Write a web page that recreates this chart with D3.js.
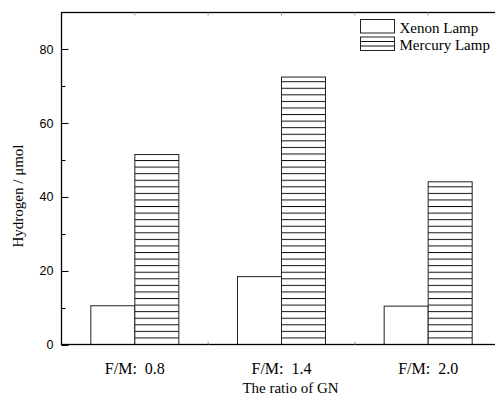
<!DOCTYPE html>
<html lang="en">
    <head>
        <meta charset="utf-8">
        <title>Hydrogen evolution vs ratio of GN</title>
        <script src="https://d3js.org/d3.v7.min.js"></script>
        <style type="text/css">
            body{
                margin:0;
                background:#fff;
            }
            svg{
                display:block;
            }
        </style>
    </head>
    <body>
        <svg width="495" height="396"></svg>
        <script type="text/javascript">

            // data
            const categories = ["F/M:  0.8", "F/M:  1.4", "F/M:  2.0"];
            const series = ["Xenon Lamp", "Mercury Lamp"];
            const xenon = [10.5, 18.4, 10.4];
            const mercury = [51.5, 72.5, 44.1];
            const yTicks = [0, 20, 40, 60, 80];
            const yMinor = [10, 30, 50, 70];

            const svg = d3.select("svg");
            const mLeft = 61.5, mRight = 501.5, mTop = 12.5, mBottom = 344.5;

            const x = d3.scaleBand()
                        .domain(categories)
                        .range([mLeft, mRight])
                        .paddingInner(0.4)
                        .paddingOuter(0.2);
            const xSub = d3.scaleBand()
                        .domain(series)
                        .range([0, x.bandwidth()]);
            const y = d3.scaleLinear()
                        .domain([0, 90])
                        .range([mBottom, mTop]);

            // horizontal hatch, anchored on the baseline
            const gap = 6.57;
            const defs = svg.append("defs");
            const pat = defs.append("pattern")
                            .attr("id", "hatch")
                            .attr("patternUnits", "userSpaceOnUse")
                            .attr("width", 10)
                            .attr("height", gap)
                            .attr("y", mBottom - 0.5);
            pat.append("rect").attr("width", 10).attr("height", gap).attr("fill", "#fff");
            pat.append("line")
                .attr("x1", 0).attr("x2", 10)
                .attr("y1", 0.5).attr("y2", 0.5)
                .attr("stroke", "#111").attr("stroke-width", 1);

            const fills = {"Xenon Lamp": "#fff", "Mercury Lamp": "url(#hatch)"};

            const rows = categories.map((c, i) => ({cat: c, values: [
                {key: series[0], v: xenon[i]},
                {key: series[1], v: mercury[i]}
            ]}));

            const groups = svg.selectAll("g.grp")
                            .data(rows)
                            .join("g")
                            .attr("class", "grp")
                            .attr("transform", d => `translate(${x(d.cat)},0)`);

            groups.selectAll("rect")
                .data(d => d.values)
                .join("rect")
                .attr("x", d => xSub(d.key))
                .attr("y", d => y(d.v))
                .attr("width", xSub.bandwidth())
                .attr("height", d => y(0) - y(d.v))
                .style("fill", d => fills[d.key])
                .style("stroke", "#222")
                .style("stroke-width", 1);

            // frame
            svg.append("rect")
                .attr("x", mLeft).attr("y", mTop)
                .attr("width", mRight - mLeft).attr("height", mBottom - mTop)
                .style("fill", "none")
                .style("stroke", "#000")
                .style("stroke-width", 1.3);

            // y ticks (inward)
            svg.selectAll("line.ymaj")
                .data(yTicks)
                .join("line")
                .attr("class", "ymaj")
                .attr("x1", mLeft).attr("x2", mLeft + 7)
                .attr("y1", d => Math.round(y(d)) + 0.5)
                .attr("y2", d => Math.round(y(d)) + 0.5)
                .style("stroke", "#000");
            svg.selectAll("line.ymin")
                .data(yMinor)
                .join("line")
                .attr("class", "ymin")
                .attr("x1", mLeft).attr("x2", mLeft + 4)
                .attr("y1", d => Math.round(y(d)) + 0.5)
                .attr("y2", d => Math.round(y(d)) + 0.5)
                .style("stroke", "#000");

            svg.selectAll("text.ylab")
                .data(yTicks)
                .join("text")
                .attr("class", "ylab")
                .attr("x", mLeft - 8)
                .attr("y", d => y(d))
                .attr("dy", "0.36em")
                .attr("text-anchor", "end")
                .style("font-family", "'Liberation Sans', Arial, sans-serif")
                .style("font-size", "12.5px")
                .text(d => d);

            // small x ticks on top and bottom between groups
            const xb = [x(categories[1]) - x.step() * 0.2, x(categories[2]) - x.step() * 0.2];
            svg.selectAll("line.xtb")
                .data(xb)
                .join("line")
                .attr("class", "xtb")
                .attr("x1", d => d).attr("x2", d => d)
                .attr("y1", mBottom).attr("y2", mBottom - 3)
                .style("stroke", "#999");
            svg.selectAll("line.xtt")
                .data(xb.concat(categories.map(c => x(c) + x.bandwidth() / 2)))
                .join("line")
                .attr("class", "xtt")
                .attr("x1", d => d).attr("x2", d => d)
                .attr("y1", mTop).attr("y2", mTop + 3)
                .style("stroke", "#999");

            svg.selectAll("text.xlab")
                .data(categories)
                .join("text")
                .attr("class", "xlab")
                .attr("x", d => x(d) + x.bandwidth() / 2)
                .attr("y", 373.5)
                .attr("text-anchor", "middle")
                .style("font-family", "'Liberation Serif', 'Times New Roman', serif")
                .style("font-size", "16px")
                .style("white-space", "pre")
                .text(d => d);

            svg.append("text")
                .attr("x", 290.5)
                .attr("y", 393)
                .attr("text-anchor", "middle")
                .style("font-family", "'Liberation Serif', 'Times New Roman', serif")
                .style("font-size", "15px")
                .text("The ratio of GN");

            svg.append("text")
                .attr("transform", "translate(23,196) rotate(-90)")
                .attr("text-anchor", "middle")
                .style("font-family", "'Liberation Serif', 'Times New Roman', serif")
                .style("font-size", "15px")
                .text("Hydrogen / \u03bcmol");

            // legend
            const legend = svg.selectAll("g.leg")
                            .data(series)
                            .join("g")
                            .attr("class", "leg")
                            .attr("transform", (d, i) => `translate(360.5,${19.5 + i * 17.5})`);
            legend.append("rect")
                .attr("width", 34).attr("height", 13.5)
                .style("fill", "#fff")
                .style("stroke", "#222");
            legend.filter(d => d === "Mercury Lamp")
                .selectAll("line")
                .data([4.5, 9])
                .join("line")
                .attr("x1", 0).attr("x2", 34)
                .attr("y1", d => d).attr("y2", d => d)
                .style("stroke", "#111");
            legend.append("text")
                .attr("x", 39)
                .attr("y", 13)
                .style("font-family", "'Liberation Serif', 'Times New Roman', serif")
                .style("font-size", "15px")
                .text(d => d);

        </script>
    </body>
</html>
